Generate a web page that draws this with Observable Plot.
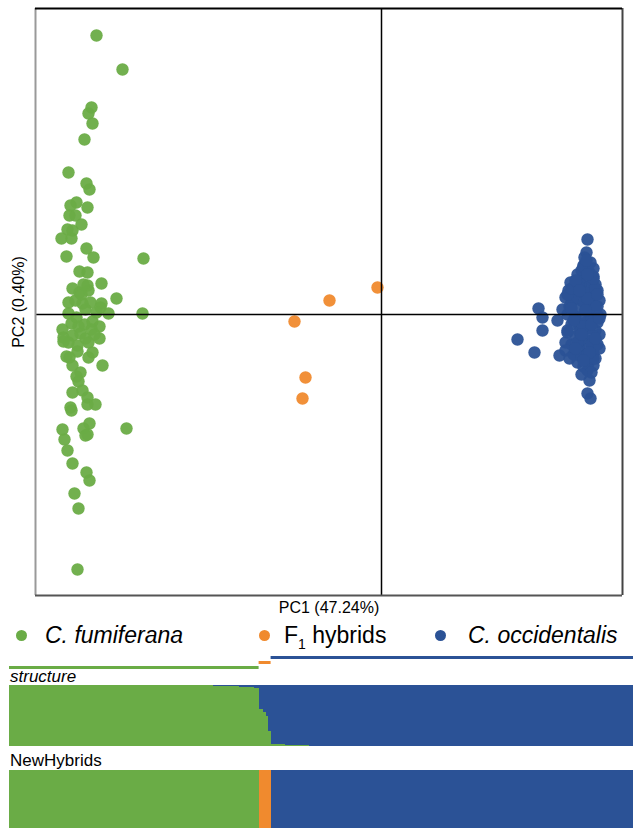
<!DOCTYPE html>
<html><head><meta charset="utf-8">
<script src="https://cdn.jsdelivr.net/npm/d3@7"></script>
<script src="https://cdn.jsdelivr.net/npm/@observablehq/plot@0.6"></script>
<style>
body{margin:0;background:#fff;font-family:"Liberation Sans",Arial,sans-serif;}
#root{position:relative;width:633px;height:828px;overflow:hidden;}
.lg{position:absolute;top:620px;font-size:23px;line-height:30px;color:#000;white-space:nowrap;}
.dot{position:absolute;width:11px;height:11px;border-radius:50%;top:630px;}
.lbl{position:absolute;left:10px;font-size:17px;line-height:18px;color:#000;}
</style></head><body><div id="root"></div>
<script>
// ---------- data ----------
const speciesNames = ["C. fumiferana", "F1 hybrids", "C. occidentalis"];
const speciesColors = ["#6aac46", "#f08a2e", "#2b5296"];
const axisLabels = ["PC1 (47.24%)", "PC2 (0.40%)"];
const panelLabels = ["structure", "NewHybrids"];

const fumiferanaPC1 = [-285,-259,-290,-293,-289,-297,-313,-295,-292,-305,-311,-294,-312,-306,-300,-314,-309,-320,-310,-295,-315,-288,-238,-302,-294,-280,-309,-294,-293,-302,-265,-313,-306,-299,-291,-280,-281,-313,-273,-239,-310,-319,-297,-289,-282,-318,-309,-301,-296,-293,-282,-313,-304,-318,-304,-289,-293,-315,-312,-279,-309,-301,-305,-303,-309,-299,-294,-294,-286,-311,-310,-292,-298,-294,-296,-319,-255,-317,-314,-309,-295,-292,-307,-303,-304,-300,-296,-305,-290,-285,-298,-303,-287];
const fumiferanaPC2 = [279,245,207,201,191,175,142,131,125,112,109,107,99,99,90,85,84,76,76,66,58,57,56,43,42,31,26,29,24,22,16,12,14,11,12,11,7,1,1,1,-9,-15,-10,-7,-12,-23,-21,-19,-24,-28,-24,-28,-31,-27,-37,-38,-43,-42,-43,-51,-51,-58,-62,-67,-78,-76,-83,-90,-90,-93,-96,-109,-114,-120,-121,-115,-114,-125,-136,-149,-158,-166,-179,-194,-255,20,5,-3,-15,2,30,-12,-20];

const hybridPC1 = [-4,-52,-87,-76,-79];
const hybridPC2 = [27,14,-7,-63,-84];

const occidentalisPC1 = [206,205,203,202,209,189,197,187,192,184,157,161,181,176,161,136,153,178,184,207,212,206,212,208,206,209,
 200,208,212,196,204,214,200,208,216,196,204,212,218,200,190,208,216,196,204,212,219,186,194,200,208,216,190,198,206,214,218,186,194,202,210,216,190,198,206,212,184,192,200,208,196,202,210,214,202,206,198,210,204,192,212,205,210,195,188,200,206,214,217,203,197,211,
 186,190,194,198,202,206,210,214,218,188,192,196,200,204,208,212,216,186,190,194,198,202,206,210,214,218];
const occidentalisPC2 = [75,62,57,49,52,32,34,24,26,17,6,-3,5,-6,-16,-25,-38,-41,-28,-49,-44,-56,-51,-66,-79,-84,
 44,42,38,40,35,30,30,28,24,22,20,18,14,14,12,10,8,6,4,2,0,0,-2,-4,-6,-8,-10,-12,-14,-16,-20,-18,-22,-24,-26,-30,-30,-32,-34,-38,-36,-40,-42,-44,-48,-52,-58,8,48,22,-18,-20,-8,16,46,54,-2,-40,-44,-60,-40,-44,-2,12,28,32,
 20,26,34,-26,-12,16,-30,26,-34,8,-6,-28,-20,4,-38,36,20,-16,6,-34,24,-46,40,-10,-24,-4];

// structure: proportion of the C. fumiferana cluster per individual (sorted as in the figure)
const structureFumiferana = [
 1,1,1,1,1,1,1,1,1,1,
 1,1,1,1,1,1,1,1,1,1,
 1,1,1,1,1,1,1,1,1,1,
 1,1,1,1,1,1,1,1,1,1,
 1,1,1,1,1,1,1,1,1,1,
 1,1,1,1,1,1,1,1,1,1,
 1,1,1,1,1,1,1,1,1,1,
 1,1,1,1,1,0.999,0.998,0.998,
 0.997,0.997,0.996,0.995,0.994,0.993,0.992,0.99,0.989,0.988,
 0.987,0.986,0.985,0.983,0.982,0.98,0.978,0.976,0.974,0.972,
 0.97,0.968,0.965,0.962,0.958,0.953];
const structureHybrids = [0.61,0.60,0.56,0.50,0.25];
const structureOccidentalis = [
 0.04,0.035,0.03,0.03,0.025,0.025,0.02,0.02,0.02,0.015,
 0.015,0.015,0.01,0.01,0.01,0.01,0,0,0,0,
 0,0,0,0,0,0,0,0,0,0,
 0,0,0,0,0,0,0,0,0,0,
 0,0,0,0,0,0,0,0,0,0,
 0,0,0,0,0,0,0,0,0,0,
 0,0,0,0,0,0,0,0,0,0,
 0,0,0,0,0,0,0,0,0,0,
 0,0,0,0,0,0,0,0,0,0,
 0,0,0,0,0,0,0,0,0,0,
 0,0,0,0,0,0,0,0,0,0,
 0,0,0,0,0,0,0,0,0,0,
 0,0,0,0,0,0,0,0,0,0,
 0,0,0,0,0,0,0,0,0,0,
 0,0,0,0,0,0,0,0,0,0,
 0];
// NewHybrids assignments: number of individuals per class
const newHybridsCounts = [104, 5, 151];

// ---------- build tables ----------
const color = {domain: speciesNames, range: speciesColors};
const pca = [];
[[fumiferanaPC1, fumiferanaPC2], [hybridPC1, hybridPC2], [occidentalisPC1, occidentalisPC2]].forEach(([xs, ys], k) => {
  xs.forEach((x, i) => pca.push({pc1: x, pc2: ys[i], species: speciesNames[k]}));
});
const xDom = [-346, 241], yDom = [-281, 306];

const qAll = [...structureFumiferana, ...structureHybrids, ...structureOccidentalis];
const nTotal = d3.sum(newHybridsCounts);
const structRows = [];
qAll.forEach((q, i) => {
  structRows.push({i, y1: 0, y2: q, cluster: speciesNames[0]});
  structRows.push({i, y1: q, y2: 1, cluster: speciesNames[2]});
});
const groups = [];
let acc = 0;
newHybridsCounts.forEach((c, k) => { groups.push({start: acc, end: acc + c, level: k, species: speciesNames[k]}); acc += c; });

const root = document.getElementById("root");
function place(el, top) { el.style.position = "absolute"; el.style.left = "0px"; el.style.top = top + "px"; root.appendChild(el); }

// ---------- PCA scatter ----------
const scatter = Plot.plot({
  width: 633, height: 620,
  marginLeft: 35, marginRight: 11, marginTop: 8, marginBottom: 25,
  x: {domain: xDom, axis: null},
  y: {domain: yDom, axis: null},
  color,
  style: {fontFamily: "Liberation Sans, Arial, sans-serif", background: "transparent"},
  marks: [
    Plot.dot(pca, {x: "pc1", y: "pc2", fill: "species", r: 6.2, stroke: "none", fillOpacity: 0.95}),
    Plot.ruleX([0], {stroke: "#000", strokeWidth: 1.5}),
    Plot.ruleY([0], {stroke: "#000", strokeWidth: 1.5}),
    Plot.ruleX([xDom[0]], {stroke: "#999", strokeWidth: 2}),
    Plot.ruleX([xDom[1]], {stroke: "#444", strokeWidth: 2}),
    Plot.ruleY([yDom[0]], {stroke: "#555", strokeWidth: 2}),
    Plot.ruleY([yDom[1]], {stroke: "#000", strokeWidth: 2}),
    Plot.text([axisLabels[0]], {frameAnchor: "bottom", dy: 12, fontSize: 16, fill: "#000", textAnchor: "middle", lineAnchor: "middle"}),
    Plot.text([axisLabels[1]], {frameAnchor: "left", dx: -17, rotate: -90, fontSize: 16, fill: "#000", textAnchor: "middle", lineAnchor: "middle"})
  ]
});
place(scatter, 0);

// ---------- legend ----------
const legendPos = [[16, 45], [259, 284], [435, 468]];
speciesNames.forEach((name, k) => {
  const d = document.createElement("div");
  d.className = "dot"; d.style.left = legendPos[k][0] + "px"; d.style.background = speciesColors[k];
  root.appendChild(d);
  const t = document.createElement("div");
  t.className = "lg"; t.style.left = legendPos[k][1] + "px";
  if (k === 1) t.innerHTML = "F<sub style='font-size:14px'>1</sub> hybrids";
  else { t.textContent = name; t.style.fontStyle = "italic"; }
  root.appendChild(t);
});

// ---------- group lines ----------
const groupPlot = Plot.plot({
  width: 633, height: 22, marginLeft: 9, marginRight: 0, marginTop: 7, marginBottom: 5,
  x: {domain: [0, nTotal], axis: null},
  y: {domain: [0, 2], axis: null},
  color,
  marks: [Plot.ruleY(groups, {x1: "start", x2: "end", y: "level", stroke: "species", strokeWidth: 3})]
});
place(groupPlot, 650);

// ---------- structure ----------
const l1 = document.createElement("div"); l1.className = "lbl"; l1.style.top = "668px"; l1.style.fontStyle = "italic"; l1.textContent = panelLabels[0]; root.appendChild(l1);
const structPlot = Plot.plot({
  width: 633, height: 61, marginLeft: 9, marginRight: 0, marginTop: 0, marginBottom: 0,
  x: {domain: [0, nTotal], axis: null},
  y: {domain: [0, 1], axis: null},
  color,
  marks: [Plot.rect(structRows, {x1: "i", x2: d => d.i + 1, y1: "y1", y2: "y2", fill: "cluster", shapeRendering: "crispEdges"})]
});
place(structPlot, 685);

// ---------- NewHybrids ----------
const l2 = document.createElement("div"); l2.className = "lbl"; l2.style.top = "752px"; l2.textContent = panelLabels[1]; root.appendChild(l2);
const nhPlot = Plot.plot({
  width: 633, height: 58, marginLeft: 9, marginRight: 0, marginTop: 0, marginBottom: 0,
  x: {domain: [0, nTotal], axis: null},
  y: {domain: [0, 1], axis: null},
  color,
  marks: [Plot.rect(groups, {x1: "start", x2: "end", y1: 0, y2: 1, fill: "species", shapeRendering: "crispEdges"})]
});
place(nhPlot, 770);
</script></body></html>
